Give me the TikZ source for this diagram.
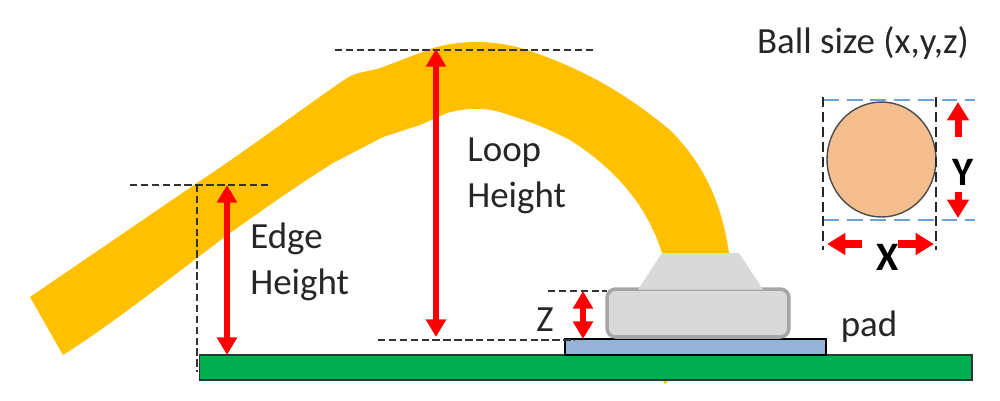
\documentclass[tikz,border=0pt]{standalone}
\usepackage{fontspec}
\setmainfont{Carlito}
\usetikzlibrary{arrows.meta}
\usetikzlibrary{positioning}
\usetikzlibrary{shapes.geometric}
\definecolor{wiregold}{RGB}{255,192,0}
\definecolor{boardgreen}{RGB}{0,176,80}
\definecolor{padblue}{RGB}{149,179,215}
\definecolor{bondgray}{RGB}{217,217,217}
\definecolor{rimgray}{RGB}{166,166,166}
\definecolor{ballpeach}{RGB}{244,190,142}
\definecolor{guideblue}{RGB}{110,160,215}
\tikzset{
    label/.style={font=\fontsize{21}{26}\selectfont, text=black!85, align=left, inner sep=0pt},
    boldlabel/.style={label, font=\fontsize{23}{26}\selectfont\bfseries, text=black},
    guide/.style={line width=1.3pt, dash pattern=on 4.2pt off 2pt, black!80},
    ballguide/.style={line width=1.2pt, dash pattern=on 5.7pt off 2.8pt, black!85},
    blueguide/.style={line width=1.2pt, dash pattern=on 9pt off 4.5pt, guideblue},
    measure/.style={red, line width=3pt, {Triangle[length=10pt, width=11pt]}-{Triangle[length=10pt, width=11pt]}},
    push/.style={red, line width=4pt, -{Triangle[length=10.5pt, width=12pt]}}
}

\begin{document}
\begin{tikzpicture}[x=0.02cm, y=-0.02cm]
    \useasboundingbox (0,0) rectangle (1000,400);

    % wire
    \fill[wiregold] (660,376) -- (672,376) -- (665,384) -- cycle;
    \fill[wiregold] (30,297) -- (197,183) .. controls (250,148) and (300,110) .. (347,78)
        .. controls (358,71) and (370,72) .. (383,67) -- (433,48)
        .. controls (465,39) and (500,40) .. (533,52)
        .. controls (590,72) and (630,97) .. (670,130)
        .. controls (705,165) and (722,205) .. (729,253)
        -- (662,253) .. controls (650,215) and (625,175) .. (570,140)
        .. controls (545,127) and (525,120) .. (503,113)
        .. controls (485,107) and (465,108) .. (447,113) -- (420,125) -- (383,137)
        -- (333,163) .. controls (290,190) and (260,212) .. (230,233)
        .. controls (170,278) and (115,322) .. (63,355) -- cycle;

    % board and pad
    \node[fill=boardgreen, draw=black!80, line width=0.7pt, minimum width=773*0.569pt, minimum height=25*0.569pt, inner sep=0pt] (board) at (585.5,367.5) {};
    \node[fill=padblue, draw=black, line width=0.7pt, minimum width=261*0.569pt, minimum height=16*0.569pt, inner sep=0pt] (pad) at (695.5,347) {};

    % bond
    \node[fill=bondgray, draw=rimgray, line width=2pt, rounded corners=5pt, minimum width=182*0.569pt, minimum height=48*0.569pt, inner sep=0pt] (bond) at (698,313) {};
    \fill[bondgray] (662,253) -- (739,253) -- (763,289.5) -- (638,289.5) -- cycle;

    % guides
    \coordinate (edgeL) at (130,185);
    \coordinate (edgeR) at (270,185);
    \coordinate (edgeT) at (197,185);
    \coordinate (edgeB) at (197,372);
    \coordinate (loopL) at (335,50);
    \coordinate (loopR) at (595,50);
    \coordinate (baseL) at (378,340);
    \coordinate (baseR) at (575,340);
    \coordinate (zedL)  at (548,291);
    \coordinate (zedR)  at (607,291);
    \draw[guide] (edgeL) -- (edgeR);
    \draw[guide] (edgeT) -- (edgeB);
    \draw[guide] (loopL) -- (loopR);
    \draw[guide] (baseL) -- (baseR);
    \draw[guide] (zedL) -- (zedR);

    % measures
    \coordinate (edgeA) at (227,185);
    \coordinate (edgeZ) at (227,355);
    \coordinate (loopA) at (436,49);
    \coordinate (loopZ) at (436,337);
    \coordinate (zedA)  at (583,291);
    \coordinate (zedZ)  at (583,339);
    \draw[measure] (edgeA) -- (edgeZ);
    \draw[measure] (loopA) -- (loopZ);
    \draw[measure] (zedA) -- (zedZ);

    % ball
    \node[ellipse, draw=black!70, fill=ballpeach, line width=0.8pt, minimum width=109*0.569pt, minimum height=115*0.569pt, inner sep=0pt] (ball) at (881.5,159.5) {};
    \coordinate (ballTL) at (823,100);
    \coordinate (ballTR) at (975,100);
    \coordinate (ballBL) at (823,220);
    \coordinate (ballBR) at (975,220);
    \coordinate (sideLT) at (823,97);
    \coordinate (sideLB) at (823,250);
    \coordinate (sideRT) at (936,97);
    \coordinate (sideRB) at (936,250);
    \draw[blueguide] (ballTL) -- (ballTR);
    \draw[blueguide] (ballBL) -- (ballBR);
    \draw[ballguide] (sideLT) -- (sideLB);
    \draw[ballguide] (sideRT) -- (sideRB);

    \coordinate (xLa) at (862,244);
    \coordinate (xLb) at (827,244);
    \coordinate (xRa) at (898,244);
    \coordinate (xRb) at (934,244);
    \coordinate (yUa) at (958,137);
    \coordinate (yUb) at (958,102);
    \coordinate (yDa) at (958,192);
    \coordinate (yDb) at (958,218);
    \draw[push] (xLa) -- (xLb);
    \draw[push] (xRa) -- (xRb);
    \draw[push] (yUa) -- (yUb);
    \draw[push] (yDa) -- (yDb);

    % labels
    \node[label, anchor=west] (edgetext) at (250,262) {Edge\\Height};
    \node[label, anchor=west] (looptext) at (467,176) {Loop\\Height};
    \node[label] (zedtext) at (545,320) {Z};
    \node[label] (padtext) at (869,327) {pad};
    \node[label] (title) at (863,43) {Ball size (x,y,z)};
    \node[boldlabel] (xtext) at (888,257) {X};
    \node[boldlabel] (ytext) at (963,172) {Y};
\end{tikzpicture}
\end{document}
